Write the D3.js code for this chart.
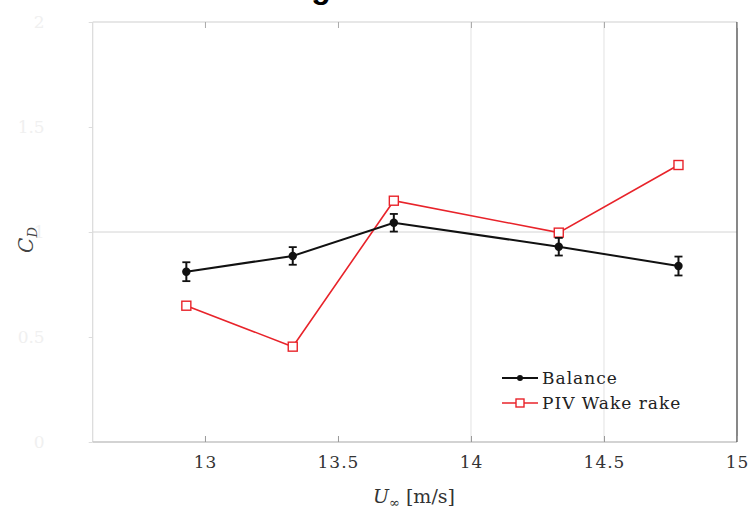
<!DOCTYPE html>
<html>
<head>
<meta charset="utf-8">
<script src="https://cdn.jsdelivr.net/npm/d3@7"></script>
<style>
  html, body { margin: 0; padding: 0; background: #fff; }
  svg { display: block; }
</style>
</head>
<body>
<svg id="chart" width="752" height="512"></svg>
<script>
// ---- data ----
const speeds = [12.93, 13.33, 13.71, 14.33, 14.78];
const balanceCd = [0.811, 0.886, 1.044, 0.930, 0.838];
const balanceErr = [0.045, 0.042, 0.042, 0.042, 0.045];
const pivCd = [0.649, 0.454, 1.149, 0.997, 1.319];
const xTicks = [13, 13.5, 14, 14.5, 15];
const xTickLabels = ["13", "13.5", "14", "14.5", "15"];
const yTicks = [0, 0.5, 1, 1.5, 2];
const yTickLabels = ["0", "0.5", "1", "1.5", "2"];
const seriesNames = ["Balance", "PIV Wake rake"];
const gridX = [14, 14.5];
const gridY = [1];

// ---- layout ----
const W = 752, H = 512;
const m = { left: 92.7, top: 22, right: 15, bottom: 70 };
const svg = d3.select("#chart");
const serif = "'DejaVu Serif', 'Liberation Serif', serif";

const x = d3.scaleLinear().domain([12.578, 15]).range([m.left, W - m.right]);
const y = d3.scaleLinear().domain([0, 2]).range([H - m.bottom, m.top]);

// partially visible title (cut off at top, as in the reference)
svg.append("text")
  .attr("x", 258).attr("y", -2)
  .attr("font-family", "'Liberation Sans', Arial, sans-serif")
  .attr("font-weight", "bold").attr("font-size", 32)
  .attr("fill", "#000")
  .text("Drag coefficient");

// grid lines
svg.append("g").selectAll("line").data(gridX).join("line")
  .attr("x1", d => x(d)).attr("x2", d => x(d))
  .attr("y1", y(2)).attr("y2", y(0))
  .attr("stroke", "#e2e2e2").attr("stroke-width", 1);
svg.append("g").selectAll("line").data(gridY).join("line")
  .attr("x1", x.range()[0]).attr("x2", x.range()[1])
  .attr("y1", d => y(d)).attr("y2", d => y(d))
  .attr("stroke", "#d4d4d4").attr("stroke-width", 1);

// axes box
const box = svg.append("g");
box.append("line").attr("x1", m.left).attr("x2", W - m.right).attr("y1", m.top).attr("y2", m.top)
  .attr("stroke", "#cfcfcf").attr("stroke-width", 1.2);
box.append("line").attr("x1", m.left).attr("x2", m.left).attr("y1", m.top).attr("y2", H - m.bottom)
  .attr("stroke", "#dadada").attr("stroke-width", 1.2);
box.append("line").attr("x1", m.left).attr("x2", W - m.right).attr("y1", H - m.bottom).attr("y2", H - m.bottom)
  .attr("stroke", "#c4c4c4").attr("stroke-width", 1.4);
box.append("line").attr("x1", W - m.right).attr("x2", W - m.right).attr("y1", m.top).attr("y2", H - m.bottom)
  .attr("stroke", "#555").attr("stroke-width", 1.4);

// x axis (bottom) with inward ticks
const xAxis = d3.axisBottom(x).tickValues(xTicks)
  .tickFormat((d, i) => xTickLabels[i]).tickSize(-6).tickPadding(14);
const gx = svg.append("g").attr("transform", `translate(0,${H - m.bottom})`).call(xAxis);
gx.select(".domain").remove();
gx.selectAll(".tick line").attr("stroke", "#999");
gx.selectAll(".tick text").attr("font-family", serif).attr("font-size", 17)
  .attr("letter-spacing", 1).attr("fill", "#333");

// top ticks
const gxt = svg.append("g").attr("transform", `translate(0,${m.top})`)
  .call(d3.axisTop(x).tickValues(xTicks).tickSize(-6).tickFormat(""));
gxt.select(".domain").remove();
gxt.selectAll(".tick line").attr("stroke", "#aaa");

// y axis (very faint labels)
const yAxis = d3.axisLeft(y).tickValues(yTicks)
  .tickFormat((d, i) => yTickLabels[i]).tickSize(4).tickPadding(44);
const gy = svg.append("g").attr("transform", `translate(${m.left},0)`).call(yAxis);
gy.select(".domain").remove();
gy.selectAll(".tick line").attr("stroke", "#ddd");
gy.selectAll(".tick text").attr("font-family", serif).attr("font-size", 17).attr("fill", "#f0f0f0");

// axis labels
const xl = svg.append("text")
  .attr("x", 414).attr("y", 503).attr("text-anchor", "middle")
  .attr("font-family", serif).attr("font-size", 19).attr("fill", "#333");
xl.append("tspan").attr("font-style", "italic").text("U");
xl.append("tspan").attr("font-size", 13).attr("dy", 4).text("∞");
xl.append("tspan").attr("dy", -4).text(" [m/s]");

const yl = svg.append("text")
  .attr("transform", "translate(33,240) rotate(-90)")
  .attr("text-anchor", "middle")
  .attr("font-family", serif).attr("font-size", 20).attr("fill", "#444");
yl.append("tspan").attr("font-style", "italic").text("C");
yl.append("tspan").attr("font-size", 13).attr("dy", 4).attr("font-style", "italic").text("D");

// ---- series ----
const balance = speeds.map((s, i) => ({ x: s, y: balanceCd[i], e: balanceErr[i] }));
const piv = speeds.map((s, i) => ({ x: s, y: pivCd[i] }));
const line = d3.line().x(d => x(d.x)).y(d => y(d.y));

const red = "#e8232a";

svg.append("path").datum(piv).attr("d", line)
  .attr("fill", "none").attr("stroke", red).attr("stroke-width", 1.6);
svg.append("g").selectAll("rect").data(piv).join("rect")
  .attr("x", d => x(d.x) - 4.5).attr("y", d => y(d.y) - 4.5)
  .attr("width", 9).attr("height", 9)
  .attr("fill", "#fff").attr("stroke", red).attr("stroke-width", 1.4);

svg.append("path").datum(balance).attr("d", line)
  .attr("fill", "none").attr("stroke", "#111").attr("stroke-width", 2);
const eb = svg.append("g").selectAll("g").data(balance).join("g");
eb.append("line")
  .attr("x1", d => x(d.x)).attr("x2", d => x(d.x))
  .attr("y1", d => y(d.y - d.e)).attr("y2", d => y(d.y + d.e))
  .attr("stroke", "#111").attr("stroke-width", 2);
eb.append("line")
  .attr("x1", d => x(d.x) - 4).attr("x2", d => x(d.x) + 4)
  .attr("y1", d => y(d.y - d.e)).attr("y2", d => y(d.y - d.e))
  .attr("stroke", "#111").attr("stroke-width", 1.8);
eb.append("line")
  .attr("x1", d => x(d.x) - 4).attr("x2", d => x(d.x) + 4)
  .attr("y1", d => y(d.y + d.e)).attr("y2", d => y(d.y + d.e))
  .attr("stroke", "#111").attr("stroke-width", 1.8);
eb.append("circle")
  .attr("cx", d => x(d.x)).attr("cy", d => y(d.y)).attr("r", 4.2)
  .attr("fill", "#111");

// ---- legend ----
const lg = svg.append("g").attr("transform", "translate(502,378)");
const rows = lg.selectAll("g").data(seriesNames).join("g")
  .attr("transform", (d, i) => `translate(0,${i * 25})`);
rows.append("line").attr("x1", 0).attr("x2", 36).attr("y1", 0).attr("y2", 0)
  .attr("stroke", (d, i) => i === 0 ? "#111" : red)
  .attr("stroke-width", (d, i) => i === 0 ? 2 : 1.6);
rows.filter((d, i) => i === 0).append("circle")
  .attr("cx", 18).attr("cy", 0).attr("r", 3).attr("fill", "#111");
rows.filter((d, i) => i === 1).append("rect")
  .attr("x", 14).attr("y", -4).attr("width", 8).attr("height", 8)
  .attr("fill", "#fff").attr("stroke", red).attr("stroke-width", 1.4);
rows.append("text").attr("x", 40).attr("y", 6)
  .attr("font-family", serif).attr("font-size", 17).attr("letter-spacing", 1)
  .attr("fill", "#222")
  .text(d => d);
</script>
</body>
</html>
